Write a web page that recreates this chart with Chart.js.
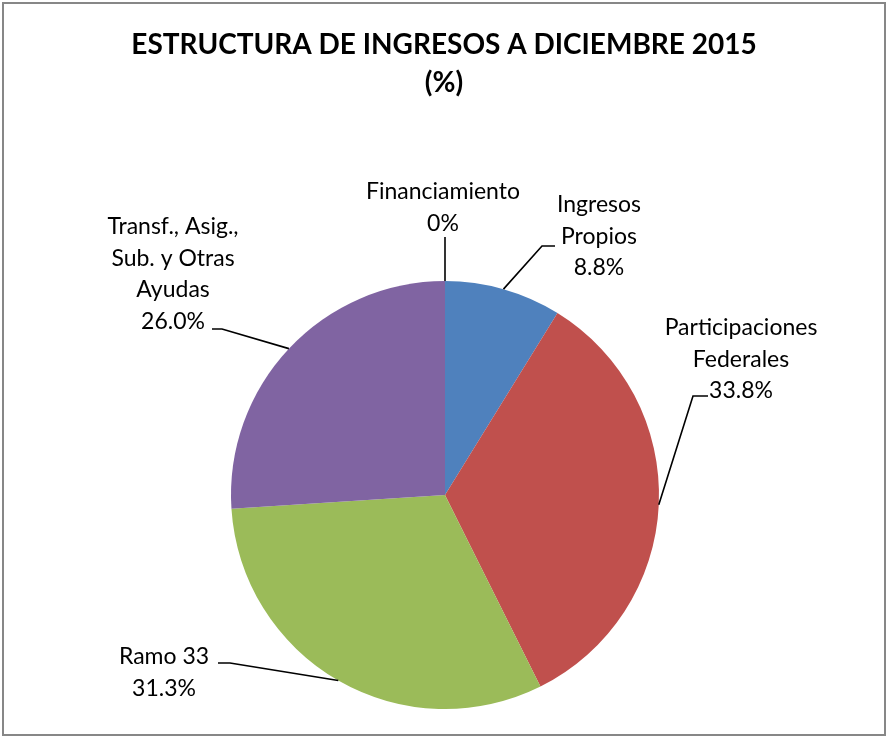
<!DOCTYPE html>
<html>
<head>
<meta charset="utf-8">
<script src="https://cdn.jsdelivr.net/npm/chart.js@4.4.0/dist/chart.umd.min.js"></script>
<style>
  html, body { margin: 0; padding: 0; background: #fff; }
  #wrap { width: 887px; height: 738px; }
</style>
</head>
<body>
<div id="wrap"><canvas id="pie" width="887" height="738"></canvas></div>
<script>
// Data
const titleLines = ['ESTRUCTURA DE INGRESOS A DICIEMBRE 2015', '(%)'];
const categories = ['Financiamiento', 'Ingresos Propios', 'Participaciones Federales', 'Ramo 33', 'Transf., Asig., Sub. y Otras Ayudas'];
const shares = [0, 8.8, 33.8, 31.3, 26.0];
const shareLabels = ['0%', '8.8%', '33.8%', '31.3%', '26.0%'];
// how each category name wraps in its label box
const labelLines = [
    ['Financiamiento'],
    ['Ingresos', 'Propios'],
    ['Participaciones', 'Federales'],
    ['Ramo 33'],
    ['Transf., Asig.,', 'Sub. y Otras', 'Ayudas']
];

const colors = ['#4F81BD', '#4F81BD', '#C0504D', '#9BBB59', '#8064A2'];
const FONT = 'Lato, "Open Sans", sans-serif';

// label placement relative to pie centre: text centre x, first line y, leader elbow + end
const labelLayout = [
    { x: -2,   y: -303, elbow: [0, -258],    end: [0, -258] },
    { x: 154,  y: -290, elbow: [97, -249],   end: [110, -249] },
    { x: 296,  y: -167, elbow: [248, -99],   end: [263, -99] },
    { x: -281, y: 162,  elbow: [-215, 168],  end: [-227, 168] },
    { x: -272, y: -268, elbow: [-223, -166], end: [-233, -166] }
];

// Frame + title + labels
const decor = {
    id: 'decor',
    beforeDraw(chart) {
        const c = chart.ctx;
        c.save();
        c.fillStyle = '#fff';
        c.fillRect(0, 0, chart.width, chart.height);
        c.strokeStyle = '#878787';
        c.lineWidth = 2;
        c.strokeRect(3, 3, 882, 732);
        c.restore();
    },
    afterDraw(chart) {
        const c = chart.ctx;
        c.save();
        c.fillStyle = '#000';
        c.textAlign = 'center';
        c.textBaseline = 'middle';
        c.font = 'bold 28px ' + FONT;
        c.fillText(titleLines[0], 444, 45);
        c.fillText(titleLines[1], 444, 83);

        const arcs = chart.getDatasetMeta(0).data;
        c.font = '23px ' + FONT;
        arcs.forEach((arc, i) => {
            const { x: cx, y: cy, outerRadius, startAngle, endAngle } = arc.getProps(['x', 'y', 'outerRadius', 'startAngle', 'endAngle'], true);
            const mid = (startAngle + endAngle) / 2;
            const px = cx + Math.cos(mid) * outerRadius;
            const py = cy + Math.sin(mid) * outerRadius;
            const L = labelLayout[i];

            c.strokeStyle = '#000';
            c.lineWidth = 1.6;
            c.beginPath();
            c.moveTo(px, py);
            c.lineTo(cx + L.elbow[0], cy + L.elbow[1]);
            c.lineTo(cx + L.end[0], cy + L.end[1]);
            c.stroke();

            const lines = labelLines[i].concat([shareLabels[i]]);
            lines.forEach((t, k) => {
                c.fillText(t, cx + L.x, cy + L.y + k * 31.5);
            });
        });
        c.restore();
    }
};

new Chart(document.getElementById('pie'), {
    type: 'pie',
    data: {
        labels: categories,
        datasets: [{
            data: shares,
            backgroundColor: colors,
            borderWidth: 0
        }]
    },
    options: {
        responsive: false,
        animation: false,
        layout: { padding: { top: 281, bottom: 29, left: 17, right: 14 } },
        plugins: {
            legend: { display: false },
            tooltip: { enabled: false },
            title: { display: false }
        }
    },
    plugins: [decor]
});
</script>
</body>
</html>
